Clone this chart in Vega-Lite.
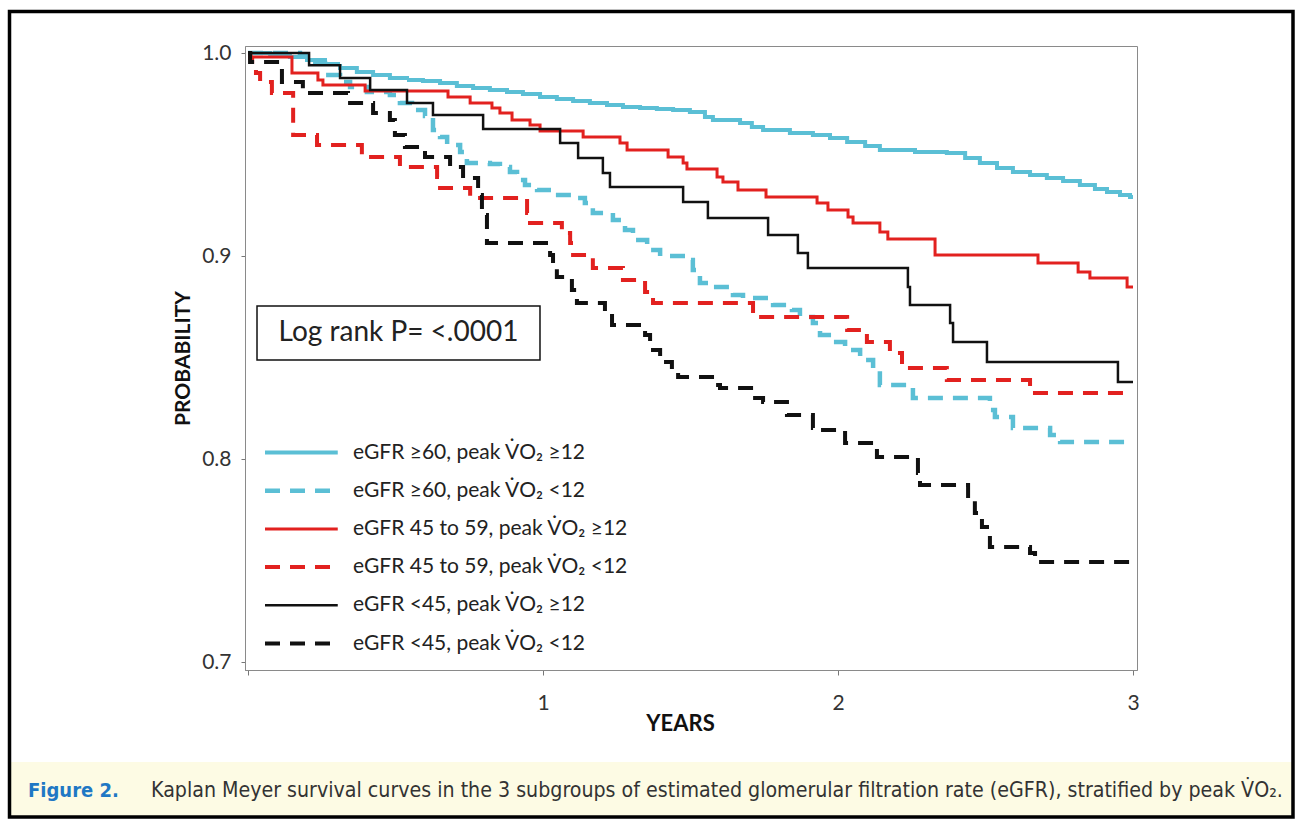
{
  "$schema": "https://vega.github.io/schema/vega-lite/v6.json",
  "width": 892,
  "height": 624,
  "autosize": {"type": "none"},
  "padding": {"left": 245, "top": 46, "right": 163, "bottom": 151},
  "background": "white",
  "config": {
    "view": {"stroke": "#8a8a8a", "strokeWidth": 1},
    "font": "Lato"
  },
  "datasets": {
    "names": [
      {"g": 1, "name": "eGFR \u226560, peak V\u0307O\u2082 \u226512"},
      {"g": 2, "name": "eGFR \u226560, peak V\u0307O\u2082 <12"},
      {"g": 3, "name": "eGFR 45 to 59, peak V\u0307O\u2082 \u226512"},
      {"g": 4, "name": "eGFR 45 to 59, peak V\u0307O\u2082 <12"},
      {"g": 5, "name": "eGFR <45, peak V\u0307O\u2082 \u226512"},
      {"g": 6, "name": "eGFR <45, peak V\u0307O\u2082 <12"}
    ],
    "km": [
      {"g":1,"t":0,"p":1.0},{"g":1,"t":0.075,"p":0.999},{"g":1,"t":0.142,"p":0.998},{"g":1,"t":0.2,"p":0.9966},{"g":1,"t":0.261,"p":0.9946},{"g":1,"t":0.312,"p":0.9926},{"g":1,"t":0.369,"p":0.9906},{"g":1,"t":0.424,"p":0.9892},{"g":1,"t":0.481,"p":0.9877},{"g":1,"t":0.539,"p":0.9867},{"g":1,"t":0.593,"p":0.9862},{"g":1,"t":0.651,"p":0.9852},{"g":1,"t":0.708,"p":0.9837},{"g":1,"t":0.763,"p":0.9828},{"g":1,"t":0.82,"p":0.9818},{"g":1,"t":0.878,"p":0.9808},{"g":1,"t":0.932,"p":0.9798},{"g":1,"t":0.99,"p":0.9783},{"g":1,"t":1.047,"p":0.9773},{"g":1,"t":1.102,"p":0.9764},{"g":1,"t":1.159,"p":0.9754},{"g":1,"t":1.217,"p":0.9744},{"g":1,"t":1.271,"p":0.9734},{"g":1,"t":1.329,"p":0.9729},{"g":1,"t":1.386,"p":0.9724},{"g":1,"t":1.441,"p":0.9719},{"g":1,"t":1.498,"p":0.9709},{"g":1,"t":1.549,"p":0.9685},{"g":1,"t":1.576,"p":0.967},{"g":1,"t":1.668,"p":0.9655},{"g":1,"t":1.708,"p":0.9635},{"g":1,"t":1.746,"p":0.9621},{"g":1,"t":1.837,"p":0.9606},{"g":1,"t":1.915,"p":0.9596},{"g":1,"t":1.973,"p":0.9581},{"g":1,"t":2.031,"p":0.9562},{"g":1,"t":2.092,"p":0.9542},{"g":1,"t":2.142,"p":0.9522},{"g":1,"t":2.261,"p":0.9512},{"g":1,"t":2.369,"p":0.9507},{"g":1,"t":2.431,"p":0.9483},{"g":1,"t":2.481,"p":0.9458},{"g":1,"t":2.539,"p":0.9433},{"g":1,"t":2.593,"p":0.9414},{"g":1,"t":2.651,"p":0.9399},{"g":1,"t":2.708,"p":0.9384},{"g":1,"t":2.763,"p":0.9369},{"g":1,"t":2.82,"p":0.935},{"g":1,"t":2.871,"p":0.933},{"g":1,"t":2.912,"p":0.9315},{"g":1,"t":2.956,"p":0.93},{"g":1,"t":2.99,"p":0.9291},{"g":1,"t":3.0,"p":0.9291},

      {"g":2,"t":0,"p":1.0},{"g":2,"t":0.176,"p":0.9985},{"g":2,"t":0.217,"p":0.9951},{"g":2,"t":0.261,"p":0.9892},{"g":2,"t":0.312,"p":0.9857},{"g":2,"t":0.346,"p":0.9833},{"g":2,"t":0.403,"p":0.9808},{"g":2,"t":0.481,"p":0.9793},{"g":2,"t":0.515,"p":0.9754},{"g":2,"t":0.556,"p":0.9719},{"g":2,"t":0.6,"p":0.969},{"g":2,"t":0.627,"p":0.9621},{"g":2,"t":0.651,"p":0.9586},{"g":2,"t":0.675,"p":0.9547},{"g":2,"t":0.719,"p":0.9512},{"g":2,"t":0.742,"p":0.9458},{"g":2,"t":0.82,"p":0.9453},{"g":2,"t":0.854,"p":0.9438},{"g":2,"t":0.888,"p":0.9414},{"g":2,"t":0.912,"p":0.9374},{"g":2,"t":0.939,"p":0.935},{"g":2,"t":0.98,"p":0.9325},{"g":2,"t":1.034,"p":0.93},{"g":2,"t":1.108,"p":0.9286},{"g":2,"t":1.142,"p":0.9261},{"g":2,"t":1.169,"p":0.9212},{"g":2,"t":1.237,"p":0.9177},{"g":2,"t":1.278,"p":0.9128},{"g":2,"t":1.305,"p":0.9079},{"g":2,"t":1.353,"p":0.903},{"g":2,"t":1.397,"p":0.9},{"g":2,"t":1.498,"p":0.898},{"g":2,"t":1.508,"p":0.8931},{"g":2,"t":1.532,"p":0.8867},{"g":2,"t":1.576,"p":0.8847},{"g":2,"t":1.644,"p":0.8808},{"g":2,"t":1.678,"p":0.8793},{"g":2,"t":1.78,"p":0.8759},{"g":2,"t":1.844,"p":0.8734},{"g":2,"t":1.871,"p":0.87},{"g":2,"t":1.915,"p":0.867},{"g":2,"t":1.939,"p":0.8611},{"g":2,"t":1.983,"p":0.8576},{"g":2,"t":2.024,"p":0.8537},{"g":2,"t":2.075,"p":0.8488},{"g":2,"t":2.119,"p":0.8438},{"g":2,"t":2.142,"p":0.8365},{"g":2,"t":2.254,"p":0.83},{"g":2,"t":2.515,"p":0.8241},{"g":2,"t":2.532,"p":0.8207},{"g":2,"t":2.593,"p":0.8153},{"g":2,"t":2.719,"p":0.8118},{"g":2,"t":2.753,"p":0.8084},{"g":2,"t":3.0,"p":0.8084},

      {"g":3,"t":0,"p":1.0},{"g":3,"t":0.01,"p":0.998},{"g":3,"t":0.149,"p":0.9901},{"g":3,"t":0.237,"p":0.9867},{"g":3,"t":0.254,"p":0.9842},{"g":3,"t":0.397,"p":0.9813},{"g":3,"t":0.678,"p":0.9783},{"g":3,"t":0.753,"p":0.9754},{"g":3,"t":0.827,"p":0.9729},{"g":3,"t":0.854,"p":0.9704},{"g":3,"t":0.895,"p":0.967},{"g":3,"t":0.956,"p":0.9645},{"g":3,"t":0.99,"p":0.9616},{"g":3,"t":1.136,"p":0.9586},{"g":3,"t":1.261,"p":0.9557},{"g":3,"t":1.285,"p":0.9522},{"g":3,"t":1.424,"p":0.9488},{"g":3,"t":1.475,"p":0.9458},{"g":3,"t":1.488,"p":0.9429},{"g":3,"t":1.59,"p":0.9389},{"g":3,"t":1.61,"p":0.9365},{"g":3,"t":1.661,"p":0.9325},{"g":3,"t":1.756,"p":0.9291},{"g":3,"t":1.929,"p":0.9261},{"g":3,"t":1.966,"p":0.9227},{"g":3,"t":2.034,"p":0.9192},{"g":3,"t":2.051,"p":0.9163},{"g":3,"t":2.142,"p":0.9118},{"g":3,"t":2.169,"p":0.9084},{"g":3,"t":2.329,"p":0.9005},{"g":3,"t":2.678,"p":0.8966},{"g":3,"t":2.814,"p":0.8921},{"g":3,"t":2.854,"p":0.8892},{"g":3,"t":2.98,"p":0.8847},{"g":3,"t":3.0,"p":0.8847},

      {"g":4,"t":0,"p":1.0},{"g":4,"t":0.007,"p":0.9975},{"g":4,"t":0.014,"p":0.9931},{"g":4,"t":0.027,"p":0.9901},{"g":4,"t":0.041,"p":0.9857},{"g":4,"t":0.081,"p":0.9803},{"g":4,"t":0.153,"p":0.9596},{"g":4,"t":0.234,"p":0.9547},{"g":4,"t":0.386,"p":0.9488},{"g":4,"t":0.515,"p":0.9438},{"g":4,"t":0.641,"p":0.9389},{"g":4,"t":0.651,"p":0.9335},{"g":4,"t":0.753,"p":0.9286},{"g":4,"t":0.946,"p":0.9212},{"g":4,"t":0.956,"p":0.9163},{"g":4,"t":1.064,"p":0.9113},{"g":4,"t":1.092,"p":0.9064},{"g":4,"t":1.102,"p":0.9005},{"g":4,"t":1.169,"p":0.8941},{"g":4,"t":1.271,"p":0.8882},{"g":4,"t":1.346,"p":0.8823},{"g":4,"t":1.373,"p":0.8768},{"g":4,"t":1.712,"p":0.87},{"g":4,"t":2.031,"p":0.8635},{"g":4,"t":2.098,"p":0.8576},{"g":4,"t":2.176,"p":0.8522},{"g":4,"t":2.217,"p":0.8448},{"g":4,"t":2.369,"p":0.8389},{"g":4,"t":2.651,"p":0.8325},{"g":4,"t":3.0,"p":0.8325},

      {"g":5,"t":0,"p":1.0},{"g":5,"t":0.207,"p":0.994},{"g":5,"t":0.312,"p":0.9877},{"g":5,"t":0.414,"p":0.9818},{"g":5,"t":0.539,"p":0.9754},{"g":5,"t":0.627,"p":0.9695},{"g":5,"t":0.797,"p":0.9626},{"g":5,"t":1.058,"p":0.9557},{"g":5,"t":1.119,"p":0.9483},{"g":5,"t":1.203,"p":0.9409},{"g":5,"t":1.227,"p":0.934},{"g":5,"t":1.475,"p":0.9266},{"g":5,"t":1.559,"p":0.9187},{"g":5,"t":1.763,"p":0.9103},{"g":5,"t":1.864,"p":0.9015},{"g":5,"t":1.898,"p":0.8941},{"g":5,"t":2.237,"p":0.8847},{"g":5,"t":2.244,"p":0.8759},{"g":5,"t":2.38,"p":0.867},{"g":5,"t":2.39,"p":0.8576},{"g":5,"t":2.505,"p":0.8478},{"g":5,"t":2.949,"p":0.8379},{"g":5,"t":3.0,"p":0.8379},

      {"g":6,"t":0,"p":1.0},{"g":6,"t":0.007,"p":0.9956},{"g":6,"t":0.115,"p":0.9857},{"g":6,"t":0.186,"p":0.9803},{"g":6,"t":0.339,"p":0.9754},{"g":6,"t":0.424,"p":0.9704},{"g":6,"t":0.481,"p":0.967},{"g":6,"t":0.498,"p":0.9596},{"g":6,"t":0.532,"p":0.9537},{"g":6,"t":0.6,"p":0.9488},{"g":6,"t":0.685,"p":0.9438},{"g":6,"t":0.729,"p":0.9384},{"g":6,"t":0.78,"p":0.93},{"g":6,"t":0.793,"p":0.9202},{"g":6,"t":0.81,"p":0.9064},{"g":6,"t":1.024,"p":0.9005},{"g":6,"t":1.034,"p":0.8946},{"g":6,"t":1.047,"p":0.8897},{"g":6,"t":1.098,"p":0.8833},{"g":6,"t":1.115,"p":0.8768},{"g":6,"t":1.21,"p":0.8719},{"g":6,"t":1.234,"p":0.866},{"g":6,"t":1.346,"p":0.8611},{"g":6,"t":1.363,"p":0.8537},{"g":6,"t":1.397,"p":0.8478},{"g":6,"t":1.437,"p":0.8438},{"g":6,"t":1.458,"p":0.8404},{"g":6,"t":1.583,"p":0.8365},{"g":6,"t":1.6,"p":0.835},{"g":6,"t":1.719,"p":0.83},{"g":6,"t":1.746,"p":0.8281},{"g":6,"t":1.827,"p":0.8217},{"g":6,"t":1.915,"p":0.8153},{"g":6,"t":1.939,"p":0.8143},{"g":6,"t":2.024,"p":0.8079},{"g":6,"t":2.132,"p":0.801},{"g":6,"t":2.271,"p":0.7931},{"g":6,"t":2.278,"p":0.7872},{"g":6,"t":2.441,"p":0.7798},{"g":6,"t":2.464,"p":0.7734},{"g":6,"t":2.488,"p":0.7665},{"g":6,"t":2.515,"p":0.7567},{"g":6,"t":2.651,"p":0.7537},{"g":6,"t":2.668,"p":0.7493},{"g":6,"t":3.0,"p":0.7493}
    ]
  },
  "layer": [
    {
      "data": {"values": [{}]},
      "mark": {"type": "rect", "fill": "#fdfbe4", "stroke": null, "clip": false},
      "encoding": {
        "x": {"datum": -0.8085, "type": "quantitative"},
        "x2": {"datum": 3.5424},
        "y": {"datum": 0.6507, "type": "quantitative"},
        "y2": {"datum": 0.6236}
      }
    },
    {
      "data": {"values": [{}]},
      "mark": {"type": "rect", "fill": null, "stroke": "#000000", "strokeWidth": 3.5, "clip": false},
      "encoding": {
        "x": {"datum": -0.8085, "type": "quantitative"},
        "x2": {"datum": 3.5424},
        "y": {"datum": 1.0204, "type": "quantitative"},
        "y2": {"datum": 0.6236}
      }
    },
    {
      "data": {"values": [{}]},
      "mark": {"type": "text", "text": "Figure 2.", "align": "left", "baseline": "middle", "font": "DejaVu Sans Condensed, Liberation Sans, sans-serif", "fontWeight": "bold", "fontSize": 20, "fill": "#1f78c4", "clip": false},
      "encoding": {
        "x": {"datum": -0.7458, "type": "quantitative"},
        "y": {"datum": 0.6365, "type": "quantitative"}
      }
    },
    {
      "data": {"values": [{}]},
      "mark": {"type": "text", "text": "Kaplan Meyer survival curves in the 3 subgroups of estimated glomerular filtration rate (eGFR), stratified by peak V\u0307O\u2082.", "align": "left", "baseline": "middle", "font": "DejaVu Sans Condensed, Liberation Sans, sans-serif", "fontSize": 21.2, "fill": "#333333", "clip": false},
      "encoding": {
        "x": {"datum": -0.3288, "type": "quantitative"},
        "y": {"datum": 0.6365, "type": "quantitative"}
      }
    },
    {
      "data": {"name": "km"},
      "transform": [
        {"lookup": "g", "from": {"data": {"name": "names"}, "key": "g", "fields": ["name"]}}
      ],
      "mark": {"type": "line", "interpolate": "step-after", "strokeCap": "butt", "clip": true},
      "encoding": {
        "x": {
          "field": "t", "type": "quantitative",
          "scale": {"domain": [-0.0102, 3.0136], "nice": false, "zero": false},
          "axis": {
            "values": [0, 1, 2, 3],
            "format": "d",
            "labelExpr": "datum.value == 0 ? '' : datum.label",
            "title": "YEARS", "titleFont": "Lato", "titleFontWeight": "bold", "titleFontSize": 22, "titleColor": "#111111",
            "titlePadding": 0, "titleX": 435,
            "labelFont": "Lato", "labelFontSize": 21, "labelColor": "#333333", "labelPadding": 17, "labelFlush": false,
            "tickSize": 5, "tickColor": "#777777", "domainColor": "#8a8a8a", "grid": false
          }
        },
        "y": {
          "field": "p", "type": "quantitative",
          "scale": {"domain": [0.69606, 1.00345], "nice": false, "zero": false},
          "axis": {
            "values": [0.7, 0.8, 0.9, 1.0],
            "format": ".1f",
            "title": "PROBABILITY", "titleFont": "Lato", "titleFontWeight": "bold", "titleFontSize": 21, "titleColor": "#111111",
            "titlePadding": 8,
            "labelFont": "Lato", "labelFontSize": 21, "labelColor": "#333333", "labelPadding": 10, "labelFlush": false,
            "tickSize": 4, "tickColor": "#777777", "domainColor": "#8a8a8a", "grid": false
          }
        },
        "color": {
          "field": "name", "type": "nominal",
          "scale": {
            "domain": ["eGFR \u226560, peak V\u0307O\u2082 \u226512", "eGFR \u226560, peak V\u0307O\u2082 <12", "eGFR 45 to 59, peak V\u0307O\u2082 \u226512", "eGFR 45 to 59, peak V\u0307O\u2082 <12", "eGFR <45, peak V\u0307O\u2082 \u226512", "eGFR <45, peak V\u0307O\u2082 <12"],
            "range": ["#5bbfd5", "#5bbfd5", "#e2211f", "#e2211f", "#111111", "#111111"]
          },
          "legend": {
            "orient": "none", "legendX": 17, "legendY": 396, "title": null,
            "symbolType": "M-1,0H8.7", "symbolSize": 225, "symbolStrokeWidth": 3.5,
            "labelOffset": 70, "labelFont": "Lato", "labelFontSize": 21, "labelColor": "#222222", "labelLimit": 600,
            "rowPadding": 16.2
          }
        },
        "strokeDash": {
          "field": "name", "type": "nominal",
          "scale": {
            "domain": ["eGFR \u226560, peak V\u0307O\u2082 \u226512", "eGFR \u226560, peak V\u0307O\u2082 <12", "eGFR 45 to 59, peak V\u0307O\u2082 \u226512", "eGFR 45 to 59, peak V\u0307O\u2082 <12", "eGFR <45, peak V\u0307O\u2082 \u226512", "eGFR <45, peak V\u0307O\u2082 <12"],
            "range": [[1, 0], [15, 10], [1, 0], [15, 10], [1, 0], [15, 10]]
          }
        },
        "strokeWidth": {
          "field": "name", "type": "nominal",
          "scale": {
            "type": "ordinal",
            "domain": ["eGFR \u226560, peak V\u0307O\u2082 \u226512", "eGFR \u226560, peak V\u0307O\u2082 <12", "eGFR 45 to 59, peak V\u0307O\u2082 \u226512", "eGFR 45 to 59, peak V\u0307O\u2082 <12", "eGFR <45, peak V\u0307O\u2082 \u226512", "eGFR <45, peak V\u0307O\u2082 <12"],
            "range": [4, 4.5, 3, 4, 2.5, 4]
          },
          "legend": null
        }
      }
    },
    {
      "data": {"values": [{}]},
      "mark": {"type": "rect", "fill": "white", "stroke": "#111111", "strokeWidth": 1.5},
      "encoding": {
        "x": {"datum": 0.0305, "type": "quantitative"},
        "x2": {"datum": 0.9898},
        "y": {"datum": 0.87537, "type": "quantitative"},
        "y2": {"datum": 0.84877}
      }
    },
    {
      "data": {"values": [{}]},
      "mark": {"type": "text", "text": "Log rank P= <.0001", "align": "center", "baseline": "middle", "font": "Lato", "fontSize": 28, "fill": "#222222"},
      "encoding": {
        "x": {"datum": 0.5102, "type": "quantitative"},
        "y": {"datum": 0.86207, "type": "quantitative"}
      }
    }
  ]
}
